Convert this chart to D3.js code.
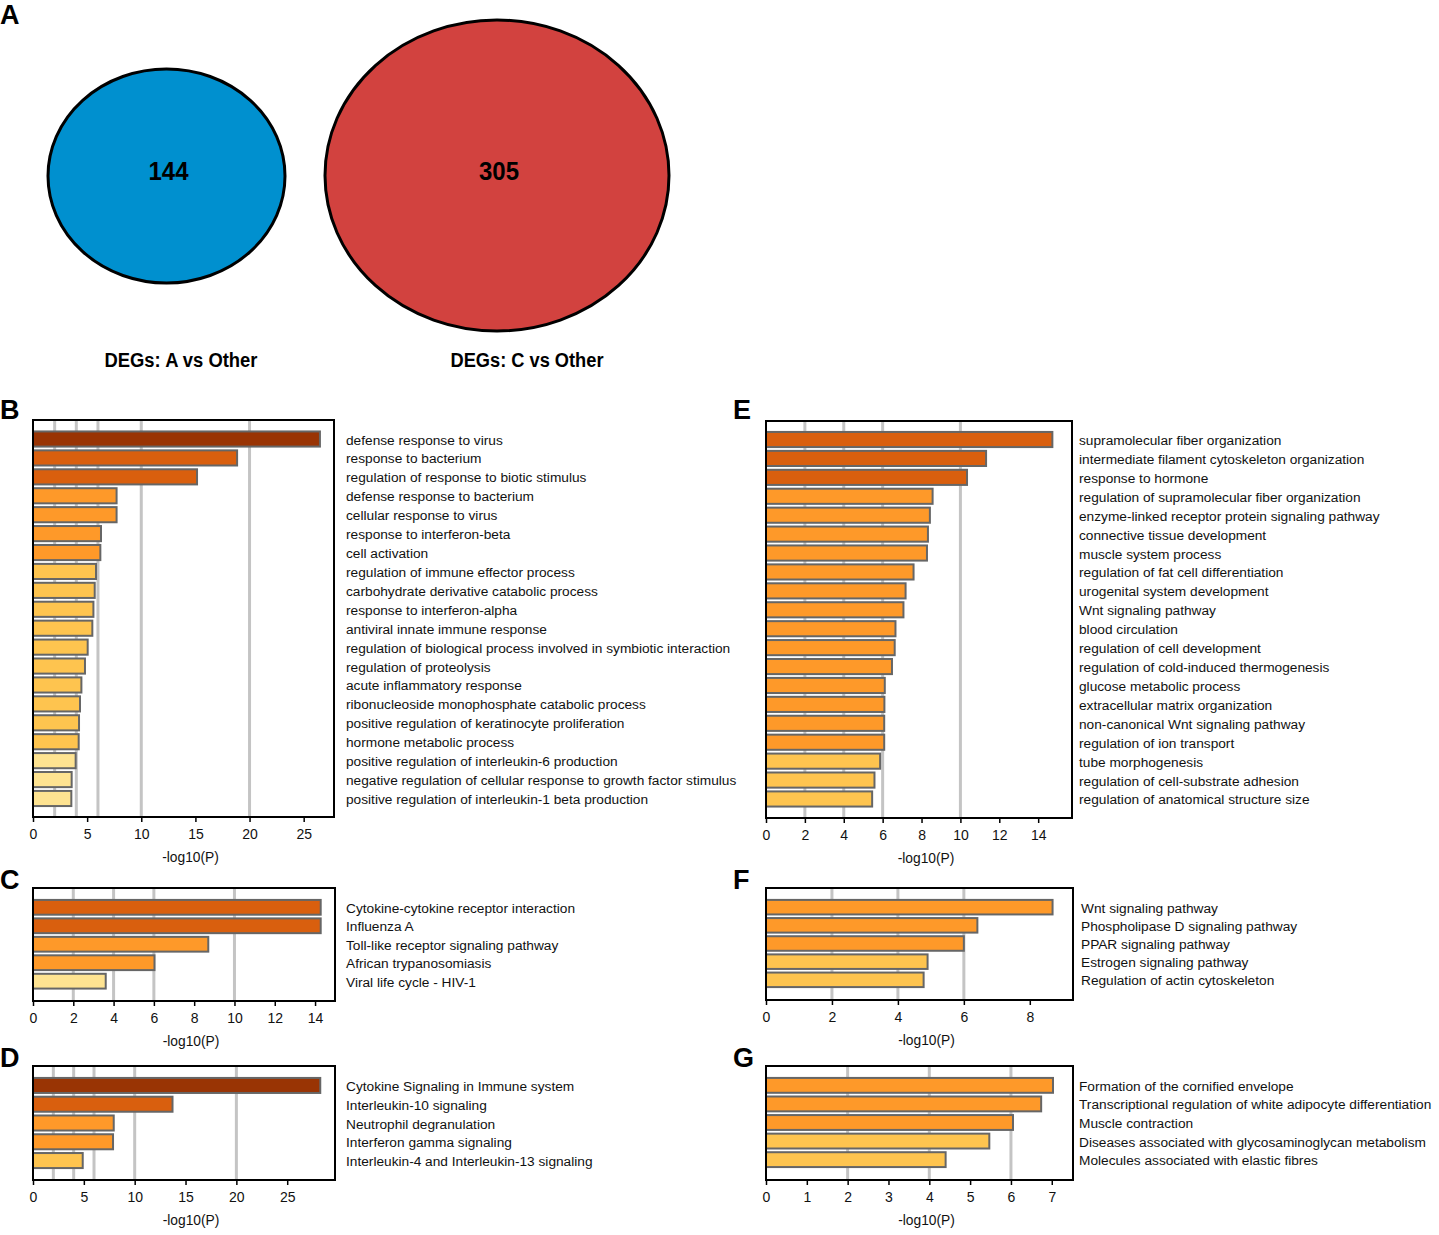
<!DOCTYPE html>
<html>
<head>
<meta charset="utf-8">
<script src="https://cdn.jsdelivr.net/npm/d3@7"></script>
<style>
  body { margin: 0; background: #fff; }
  text { font-family: Arial, "Liberation Sans", sans-serif; }
</style>
</head>
<body>
<div id="fig"></div>
<script>
// venn counts
const vennLabels = ["DEGs: A vs Other", "DEGs: C vs Other"];
const vennCounts = [144, 305];

// B: GO terms, A vs Other
const termsB = ["defense response to virus", "response to bacterium", "regulation of response to biotic stimulus",
  "defense response to bacterium", "cellular response to virus", "response to interferon-beta", "cell activation",
  "regulation of immune effector process", "carbohydrate derivative catabolic process", "response to interferon-alpha",
  "antiviral innate immune response", "regulation of biological process involved in symbiotic interaction",
  "regulation of proteolysis", "acute inflammatory response", "ribonucleoside monophosphate catabolic process",
  "positive regulation of keratinocyte proliferation", "hormone metabolic process",
  "positive regulation of interleukin-6 production", "negative regulation of cellular response to growth factor stimulus",
  "positive regulation of interleukin-1 beta production"];
const valuesB = [26.5, 18.85, 15.15, 7.72, 7.72, 6.28, 6.22, 5.82, 5.7, 5.58, 5.48, 5.05, 4.8, 4.47, 4.34, 4.25, 4.22, 3.94, 3.57, 3.54];

// C: KEGG, A vs Other
const termsC = ["Cytokine-cytokine receptor interaction", "Influenza A", "Toll-like receptor signaling pathway",
  "African trypanosomiasis", "Viral life cycle - HIV-1"];
const valuesC = [14.28, 14.28, 8.7, 6.03, 3.61];

// D: Reactome, A vs Other
const termsD = ["Cytokine Signaling in Immune system", "Interleukin-10 signaling", "Neutrophil degranulation",
  "Interferon gamma signaling", "Interleukin-4 and Interleukin-13 signaling"];
const valuesD = [28.25, 13.72, 7.94, 7.87, 4.89];

// E: GO terms, C vs Other
const termsE = ["supramolecular fiber organization", "intermediate filament cytoskeleton organization", "response to hormone",
  "regulation of supramolecular fiber organization", "enzyme-linked receptor protein signaling pathway",
  "connective tissue development", "muscle system process", "regulation of fat cell differentiation",
  "urogenital system development", "Wnt signaling pathway", "blood circulation", "regulation of cell development",
  "regulation of cold-induced thermogenesis", "glucose metabolic process", "extracellular matrix organization",
  "non-canonical Wnt signaling pathway", "regulation of ion transport", "tube morphogenesis",
  "regulation of cell-substrate adhesion", "regulation of anatomical structure size"];
const valuesE = [14.73, 11.32, 10.34, 8.57, 8.43, 8.33, 8.28, 7.59, 7.18, 7.07, 6.66, 6.62, 6.48, 6.11, 6.09, 6.08, 6.08, 5.87, 5.58, 5.46];

// F: KEGG, C vs Other
const termsF = ["Wnt signaling pathway", "Phospholipase D signaling pathway", "PPAR signaling pathway",
  "Estrogen signaling pathway", "Regulation of actin cytoskeleton"];
const valuesF = [8.69, 6.41, 6.0, 4.9, 4.78];

// G: Reactome, C vs Other
const termsG = ["Formation of the cornified envelope", "Transcriptional regulation of white adipocyte differentiation",
  "Muscle contraction", "Diseases associated with glycosaminoglycan metabolism", "Molecules associated with elastic fibres"];
const valuesG = [7.03, 6.74, 6.05, 5.47, 4.4];

const gridValues = [2, 4, 6, 10, 20];
const colorBreaks = [4, 6, 10, 20];
const colorRange = ["#fee391", "#fec44f", "#fe9929", "#d95f0e", "#993404"];

const W = 1439, H = 1235;
const svg = d3.select("#fig").append("svg").attr("width", W).attr("height", H);

const color = d3.scaleThreshold().domain(colorBreaks).range(colorRange);

// ---- panel A: two circles ----
const venn = [
  {cx: 166.5, cy: 176, rx: 118.5, ry: 107, fill: "#0090cf", lx: 181},
  {cx: 497, cy: 175.5, rx: 172, ry: 155.5, fill: "#d2423f", lx: 527}
];
venn.forEach((v, i) => {
  svg.append("ellipse")
    .attr("cx", v.cx).attr("cy", v.cy).attr("rx", v.rx).attr("ry", v.ry)
    .attr("fill", v.fill).attr("stroke", "#000").attr("stroke-width", 3);
  svg.append("text")
    .attr("x", v.cx + 2).attr("y", v.cy - 5)
    .attr("text-anchor", "middle").attr("dominant-baseline", "central")
    .attr("textLength", 40).attr("lengthAdjust", "spacingAndGlyphs")
    .style("font-weight", "bold").style("font-size", "26px")
    .text(vennCounts[i]);
  svg.append("text")
    .attr("x", v.lx).attr("y", 360)
    .attr("text-anchor", "middle").attr("dominant-baseline", "central")
    .attr("textLength", 153).attr("lengthAdjust", "spacingAndGlyphs")
    .style("font-weight", "bold").style("font-size", "20px")
    .text(vennLabels[i]);
});

// ---- bar panels ----
const panels = [
  {id: "B", terms: termsB, values: valuesB, x0: 33, x1: 334, y0: 420, y1: 817, b0: 430.5, b1: 807, xMax: 27.8, step: 5, lx: 346, letter: [0, 419]},
  {id: "C", terms: termsC, values: valuesC, x0: 33, x1: 335, y0: 888, y1: 1001, b0: 899, b1: 989.5, xMax: 14.99, step: 2, lx: 346, letter: [0, 889]},
  {id: "D", terms: termsD, values: valuesD, x0: 33, x1: 335, y0: 1066, y1: 1180, b0: 1077, b1: 1169, xMax: 29.7, step: 5, lx: 346, letter: [0, 1067]},
  {id: "E", terms: termsE, values: valuesE, x0: 766, x1: 1072, y0: 421, y1: 818, b0: 431, b1: 807.5, xMax: 15.74, step: 2, lx: 1079, letter: [733, 419]},
  {id: "F", terms: termsF, values: valuesF, x0: 766, x1: 1073, y0: 888, y1: 1000, b0: 899, b1: 988, xMax: 9.31, step: 2, lx: 1081, letter: [733, 889]},
  {id: "G", terms: termsG, values: valuesG, x0: 766, x1: 1073, y0: 1066, y1: 1180, b0: 1077, b1: 1168, xMax: 7.52, step: 1, lx: 1079, letter: [733, 1067]}
];

panels.forEach(p => {
  const g = svg.append("g");
  const x = d3.scaleLinear().domain([0, p.xMax]).range([p.x0, p.x1]);
  const y = d3.scaleBand().domain(p.terms).range([p.b0, p.b1]).paddingInner(0.2).paddingOuter(0.05);
  const rows = p.terms.map((t, i) => ({term: t, value: p.values[i]}));

  // grid lines
  g.selectAll("line.grid")
    .data(gridValues.filter(v => v < p.xMax))
    .enter().append("line")
    .attr("x1", d => x(d)).attr("x2", d => x(d))
    .attr("y1", p.y0).attr("y2", p.y1)
    .attr("stroke", "#c4c4c4").attr("stroke-width", 3);

  g.selectAll("rect.bar")
    .data(rows)
    .enter().append("rect")
    .attr("x", x(0))
    .attr("y", d => y(d.term))
    .attr("width", d => x(d.value) - x(0))
    .attr("height", y.bandwidth())
    .attr("fill", d => color(d.value))
    .attr("stroke", "#666").attr("stroke-width", 2);

  // frame
  g.append("rect")
    .attr("x", p.x0).attr("y", p.y0)
    .attr("width", p.x1 - p.x0).attr("height", p.y1 - p.y0)
    .attr("fill", "none").attr("stroke", "#000").attr("stroke-width", 2);

  const axis = d3.axisBottom(x)
    .tickValues(d3.range(0, p.xMax, p.step))
    .tickSize(5).tickPadding(7)
    .tickFormat(d3.format("d"));
  const ax = g.append("g").attr("transform", `translate(0,${p.y1})`).call(axis);
  ax.select(".domain").remove();
  ax.selectAll(".tick line").attr("stroke", "#000").attr("stroke-width", 1.5);
  ax.selectAll(".tick text").style("font-size", "14px").attr("fill", "#111");

  g.append("text")
    .attr("x", (p.x0 + p.x1) / 2 + 7).attr("y", p.y1 + 40)
    .attr("text-anchor", "middle").attr("dominant-baseline", "central")
    .style("font-size", "13.8px").attr("fill", "#111")
    .text("-log10(P)");

  g.selectAll("text.term")
    .data(rows)
    .enter().append("text")
    .attr("x", p.lx)
    .attr("y", d => y(d.term) + y.bandwidth() / 2 + 1)
    .attr("dominant-baseline", "central")
    .style("font-size", "13.7px").attr("fill", "#111")
    .text(d => d.term);

  svg.append("text")
    .attr("x", p.letter[0]).attr("y", p.letter[1])
    .style("font-weight", "bold").style("font-size", "27px")
    .text(p.id);
});

svg.append("text")
  .attr("x", 0).attr("y", 24)
  .style("font-weight", "bold").style("font-size", "27px")
  .text("A");
</script>
</body>
</html>
